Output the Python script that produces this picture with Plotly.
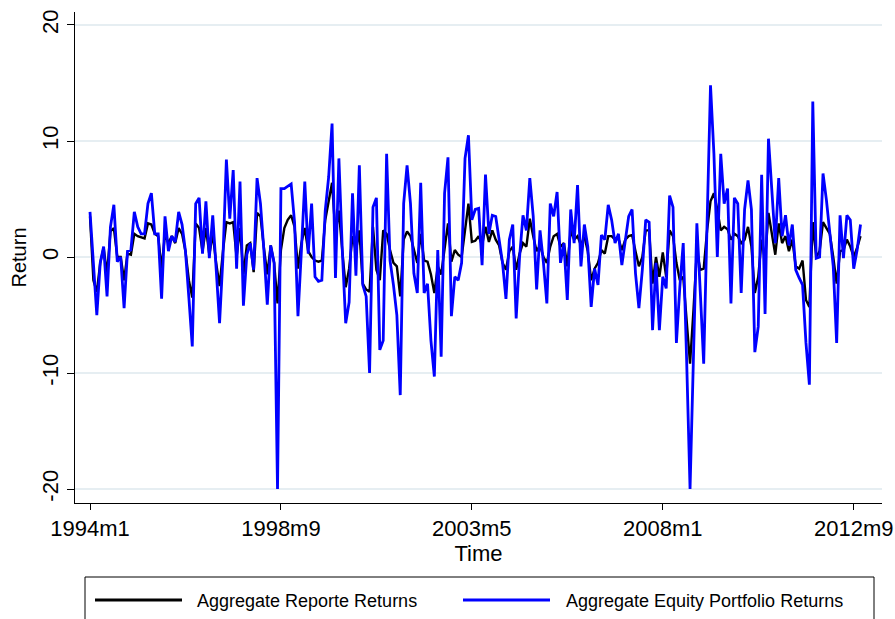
import plotly.graph_objects as go

# Monthly returns (%), 1994m1 onward
start_month = 408  # Stata %tm code for 1994m1

reporte_returns = [
    3.5, -2.0, -3.0, -0.5, 0.8, -1.5, 2.2, 2.5, 0.0, 0.0,
    -2.0, 0.3, 0.2, 2.0, 1.8, 1.7, 1.6, 2.9, 2.8, 2.0,
    1.8, -1.0, 2.0, 1.2, 1.8, 1.2, 2.5, 2.0, 0.5, -2.0,
    -3.5, 2.9, 2.5, 0.5, 2.5, 0.2, 2.0, -0.5, -2.5, 0.5,
    3.0, 2.9, 3.0, 0.0, 2.5, -1.5, 1.0, 1.2, -1.3, 3.8,
    3.5, 0.8, -1.5, 1.0, -0.5, -4.0, 0.6, 2.5, 3.2, 3.6,
    2.6, -1.0, 1.2, 2.5, 0.5, 0.0, -0.3, -0.4, -0.3, 3.2,
    5.0, 6.4, 2.0, 4.0, 0.5, -2.6, -1.0, 1.8, 0.5, 2.3,
    -2.3, -2.8, -3.0, 2.6, -1.1, -2.0, 2.3, 2.0, 0.6, -0.5,
    -0.8, -3.4, 1.5, 2.2, 1.8, 0.6, -0.5, 2.0, -0.3, -0.4,
    -1.5, -3.1, -0.8, -1.5, 0.9, 2.9, -0.4, 0.6, 0.2, 0.0,
    2.3, 4.6, 1.3, 1.4, 1.8, 1.0, 2.6, 1.3, 2.3, 1.5,
    1.0, -0.5, -1.1, 0.5, 0.9, -1.1, 0.3, 1.2, 0.9, 3.3,
    1.8, 0.5, 1.0, 0.0, -0.5, 0.9, 1.8, 2.0, 0.9, 1.2,
    -0.8, 2.3, 1.5, 1.8, 1.0, 1.8, 0.5, -2.0, -1.0, -0.5,
    0.6, 0.3, 1.8, 1.8, 1.5, 1.6, 0.6, 1.5, 1.8, 1.9,
    0.5, -0.8, 0.0, 2.3, 2.3, -2.3, 0.0, -1.7, 0.4, -1.7,
    2.3, 1.8, -0.5, -2.0, -1.7, -5.4, -9.2, -4.6, 0.6, -1.1,
    -1.0, 2.3, 4.8, 5.5, 4.1, 2.3, 2.6, 2.4, 1.5, 2.0,
    1.8, 1.2, 1.5, 2.6, 0.9, -3.1, -1.7, 1.5, -0.3, 3.8,
    1.8, 0.2, 2.9, 1.2, 1.8, 0.5, 1.5, -0.8, -1.0, -0.3,
    -3.7, -4.3, 3.0, 0.0, 0.5, 3.0, 2.5, 2.0, 0.0, -2.3,
    0.5, 0.6, 1.5, 0.9, 0.0, 0.8, 1.8,
]

equity_returns = [
    3.9, -1.0, -5.0, -0.5, 0.9, -3.4, 2.6, 4.5, -0.4, 0.0,
    -4.4, 0.5, 0.6, 3.9, 2.6, 2.0, 2.0, 4.6, 5.5, 2.0,
    2.0, -3.6, 3.5, 0.5, 1.8, 1.3, 3.9, 2.8, 0.5, -3.5,
    -7.7, 4.6, 5.1, 0.3, 4.8, -0.1, 3.6, -1.0, -5.7, 0.0,
    8.4, 3.3, 7.5, -1.0, 6.5, -4.2, 0.2, 1.2, -1.1, 6.8,
    4.6, 0.6, -4.1, 1.0, -0.5, -20.0, 5.9, 5.9, 6.1, 6.3,
    3.0, -5.1, 0.5, 6.5, 0.3, 4.6, -1.7, -2.1, -2.0, 4.0,
    6.9, 11.5, -1.8, 8.5, 0.6, -5.7, -3.9, 5.5, -1.6, 7.9,
    -2.4, -3.4, -10.0, 4.3, 5.1, -8.0, -7.2, 8.9, -0.3, -2.4,
    -5.0, -11.9, 4.6, 7.9, 4.6, -1.4, -3.1, 6.4, -3.1, -2.3,
    -7.2, -10.3, 0.6, -8.6, 5.5, 8.6, -5.1, -1.7, -2.0, -0.5,
    8.5, 10.5, 3.2, 4.1, 4.2, -0.7, 7.1, 2.0, 3.6, 3.5,
    1.5, -0.5, -3.6, 1.5, 2.8, -5.3, 0.0, 3.6, 2.3, 6.8,
    3.5, -2.8, 2.3, -0.5, -4.0, 4.6, 3.5, 5.6, -0.5, 1.2,
    -3.7, 4.1, 1.2, 6.2, -0.8, 2.8, 0.9, -4.3, -1.0, -2.4,
    1.9, 1.5, 4.5, 3.2, 1.2, 2.0, -0.7, 1.2, 3.5, 4.1,
    -1.4, -4.4, -1.1, 3.2, 3.0, -6.3, -0.5, -6.3, -1.7, -2.7,
    5.3, 4.3, -7.4, -2.6, 1.2, -8.9, -20.0, -8.6, 2.9, -3.0,
    -9.2, 3.0, 14.8, 8.9, 0.0, 8.9, 4.6, 5.9, -4.0, 5.1,
    4.6, -3.1, 4.1, 6.6, 4.1, -8.2, -6.0, 7.1, -4.9, 10.2,
    5.5, 1.2, 6.8, 1.8, 3.6, 1.0, 2.8, -1.1, -1.8, -2.4,
    -7.4, -11.0, 13.4, -0.1, 0.0, 7.2, 4.9, 1.8, -0.8, -7.4,
    3.6, -0.1, 3.6, 3.2, -1.0, 0.6, 2.8,
]

series_names = ["Aggregate Reporte Returns", "Aggregate Equity Portfolio Returns"]
series_colors = ["#000000", "#0000ff"]

x_ticks = [408, 464, 520, 576, 632]
y_ticks = [-20, -10, 0, 10, 20]

assert len(reporte_returns) == len(equity_returns)
months = [start_month + i for i in range(len(equity_returns))]


def tm_label(t):
    return f"{1960 + t // 12}m{t % 12 + 1}"


FONT = "Liberation Sans, Arial, sans-serif"
W, H = 895, 619
L, R, T, B = 75, 13, 12, 116

fig = go.Figure()
for name, color, vals, width in zip(series_names, series_colors,
                                    [reporte_returns, equity_returns], [2.4, 2.8]):
    fig.add_trace(go.Scatter(
        x=months, y=vals, mode="lines", name=name,
        line=dict(color=color, width=width), showlegend=False,
    ))

fig.update_layout(
    width=W, height=H,
    margin=dict(l=L, r=R, t=T, b=B, pad=0, autoexpand=False),
    paper_bgcolor="white", plot_bgcolor="white",
    font=dict(family=FONT, size=22, color="black"),
    xaxis=dict(
        range=[403.6, 640.3], automargin=False,
        tickmode="array", tickvals=x_ticks,
        ticktext=[tm_label(t) for t in x_ticks],
        showgrid=False, zeroline=False,
        showline=True, linecolor="black", linewidth=1,
        ticks="outside", ticklen=6, tickcolor="black", tickwidth=1,
        tickfont=dict(size=22),
        title=dict(text="Time", font=dict(size=22), standoff=0),
    ),
    yaxis=dict(
        range=[-21.2, 21.12], automargin=False,
        tickmode="array", tickvals=y_ticks,
        ticktext=[str(v) for v in y_ticks],
        tickangle=-90,
        showgrid=True, gridcolor="#e6eef2", gridwidth=1.8,
        zeroline=False,
        showline=True, linecolor="black", linewidth=1,
        ticks="outside", ticklen=7, tickcolor="black", tickwidth=1,
        tickfont=dict(size=22),
        title=dict(text="Return", font=dict(size=20), standoff=6),
    ),
)


# Legend box drawn below the plot area (pixel positions converted to paper units)
def px(xp):
    return (xp - L) / (W - L - R)


def py(yp):
    return (H - B - yp) / (H - T - B)


fig.add_shape(type="rect", xref="paper", yref="paper",
              x0=px(85), x1=px(874), y0=py(640), y1=py(577),
              line=dict(color="black", width=1), fillcolor="white", layer="above")

legend_slots = [(95, 182, 195), (463, 550, 564)]
for (lx0, lx1, tx), name, color in zip(legend_slots, series_names, series_colors):
    fig.add_shape(type="line", xref="paper", yref="paper",
                  x0=px(lx0), x1=px(lx1), y0=py(600), y1=py(600),
                  line=dict(color=color, width=3))
    fig.add_annotation(xref="paper", yref="paper", x=px(tx), y=py(601),
                       text=name, showarrow=False, xanchor="left", yanchor="middle",
                       font=dict(family=FONT, size=18, color="black"))

fig.write_html("out.html")
